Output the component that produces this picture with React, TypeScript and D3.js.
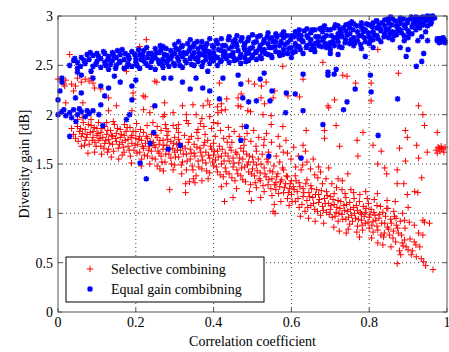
import React from 'react';
import * as d3 from 'd3';

// x tick / y tick values
const xTicks = [0, 0.2, 0.4, 0.6, 0.8, 1];
const yTicks = [0, 0.5, 1, 1.5, 2, 2.5, 3];

// Selective combining (red +)
const selectiveBand: [number, number][] = [
  [0.04,1.80],[0.045,1.76],[0.05,1.88],[0.055,1.83],[0.06,1.78],[0.065,1.92],[0.07,1.74],[0.07,1.85],[0.075,1.80],[0.08,1.70],[0.085,1.89],[0.09,1.77],[0.09,1.83],[0.095,1.72],[0.1,1.86],[0.1,1.79],[0.077,1.61],[0.094,1.62],[0.06,1.68],[0.05,1.95],[0.035,1.86],
  [0.105,1.74],[0.11,1.82],[0.11,1.68],[0.115,1.77],[0.12,1.88],[0.12,1.71],[0.125,1.80],[0.13,1.75],[0.13,1.65],[0.135,1.84],[0.14,1.78],[0.14,1.70],[0.145,1.90],[0.15,1.73],[0.15,1.81],[0.155,1.66],[0.16,1.77],[0.16,1.85],[0.165,1.72],[0.17,1.79],[0.17,1.62],[0.175,1.83],[0.18,1.75],[0.18,1.68],[0.185,1.87],[0.19,1.71],[0.19,1.79],[0.195,1.64],[0.2,1.76],[0.2,1.83],[0.137,1.57],[0.189,1.51],[0.125,1.92],[0.165,1.59],
  [0.205,1.70],[0.21,1.78],[0.21,1.62],[0.215,1.74],[0.22,1.66],[0.22,1.82],[0.225,1.71],[0.23,1.58],[0.23,1.76],[0.235,1.68],[0.24,1.63],[0.24,1.80],[0.245,1.72],[0.25,1.55],[0.25,1.67],[0.255,1.77],[0.26,1.61],[0.26,1.70],[0.265,1.84],[0.27,1.65],[0.27,1.74],[0.275,1.52],[0.28,1.69],[0.28,1.79],[0.285,1.60],[0.29,1.73],[0.29,1.56],[0.295,1.66],[0.3,1.77],[0.3,1.62],[0.3,1.49],[0.215,1.55],[0.265,1.58],[0.255,1.48],[0.287,1.24],[0.296,1.44],[0.278,1.86],
  [0.305,1.70],[0.31,1.57],[0.31,1.75],[0.315,1.64],[0.32,1.52],[0.32,1.68],[0.325,1.79],[0.33,1.60],[0.33,1.44],[0.335,1.72],[0.34,1.55],[0.34,1.65],[0.345,1.48],[0.35,1.70],[0.35,1.61],[0.355,1.38],[0.36,1.53],[0.36,1.76],[0.365,1.66],[0.37,1.58],[0.37,1.45],[0.375,1.69],[0.38,1.62],[0.38,1.51],[0.385,1.74],[0.39,1.56],[0.39,1.41],[0.395,1.65],[0.4,1.59],[0.4,1.48],[0.4,1.71],[0.328,1.30],[0.328,1.21],[0.338,1.32],[0.352,1.31],[0.37,1.33],[0.31,1.82],[0.36,1.85],
  [0.405,1.54],[0.41,1.63],[0.41,1.42],[0.415,1.68],[0.42,1.50],[0.42,1.58],[0.425,1.37],[0.43,1.61],[0.43,1.46],[0.435,1.72],[0.44,1.53],[0.44,1.40],[0.445,1.64],[0.45,1.47],[0.45,1.56],[0.455,1.33],[0.46,1.60],[0.46,1.44],[0.465,1.51],[0.47,1.66],[0.47,1.38],[0.475,1.55],[0.475,1.34],[0.48,1.47],[0.485,1.60],[0.49,1.42],[0.49,1.52],[0.495,1.29],[0.5,1.45],[0.5,1.57],[0.428,1.12],[0.45,1.16],[0.497,1.13],[0.44,1.78],[0.48,1.75],[0.42,1.27],
  [0.505,1.38],[0.51,1.49],[0.51,1.26],[0.515,1.55],[0.52,1.41],[0.52,1.33],[0.525,1.60],[0.53,1.46],[0.53,1.22],[0.535,1.37],[0.54,1.52],[0.54,1.29],[0.545,1.43],[0.55,1.35],[0.55,1.18],[0.555,1.48],[0.56,1.31],[0.56,1.24],[0.565,1.40],[0.57,1.27],[0.57,1.52],[0.575,1.34],[0.58,1.21],[0.58,1.44],[0.585,1.30],[0.59,1.15],[0.59,1.37],[0.595,1.25],[0.6,1.33],[0.6,1.19],[0.553,1.02],[0.558,1.00],[0.51,1.63],[0.548,1.90],[0.578,1.88],[0.59,1.61],[0.57,1.68],[0.53,1.75],
  [0.605,1.27],[0.61,1.38],[0.61,1.12],[0.615,1.22],[0.62,1.31],[0.62,1.06],[0.625,1.44],[0.63,1.17],[0.63,1.25],[0.635,1.02],[0.64,1.34],[0.64,1.13],[0.645,1.21],[0.65,1.08],[0.65,1.28],[0.655,1.16],[0.66,1.39],[0.66,1.04],[0.665,1.24],[0.67,1.11],[0.67,1.19],[0.675,0.98],[0.68,1.30],[0.68,1.07],[0.685,1.15],[0.69,1.01],[0.69,1.22],[0.695,1.10],[0.7,1.04],[0.7,1.17],[0.638,1.84],[0.63,1.69],[0.685,1.76],[0.715,1.89],[0.685,1.84],[0.64,1.52],[0.67,1.47],
  [0.705,0.96],[0.71,1.09],[0.71,1.20],[0.715,1.01],[0.72,1.13],[0.72,0.92],[0.725,1.05],[0.73,1.24],[0.73,0.99],[0.735,1.08],[0.74,0.94],[0.74,1.16],[0.745,1.02],[0.75,1.11],[0.75,0.89],[0.755,0.98],[0.76,1.06],[0.76,1.21],[0.765,0.95],[0.77,1.03],[0.77,0.87],[0.775,1.12],[0.78,0.99],[0.78,0.93],[0.785,1.07],[0.79,0.90],[0.79,1.01],[0.795,1.15],[0.8,0.96],[0.8,0.85],[0.741,0.80],[0.775,0.76],[0.724,1.68],[0.769,1.74],[0.784,1.82],[0.771,1.58],[0.745,1.40],[0.72,1.35],
  [0.805,1.04],[0.81,0.92],[0.81,0.81],[0.815,0.98],[0.82,1.08],[0.82,0.87],[0.822,0.70],[0.825,0.95],[0.83,0.78],[0.835,1.01],[0.835,0.68],[0.839,0.80],[0.84,0.90],[0.845,1.05],[0.848,1.05],[0.85,0.84],[0.855,0.94],[0.861,0.75],[0.865,0.97],[0.867,1.12],[0.87,0.88],[0.872,0.49],[0.875,0.80],[0.878,0.62],[0.88,0.92],[0.885,0.70],[0.891,0.93],[0.891,0.73],[0.895,0.66],[0.9,0.63],[0.9,1.06],[0.898,1.19],[0.81,1.69],[0.831,1.63],[0.822,1.50],[0.84,1.46],[0.845,1.40],[0.872,1.44],[0.872,1.30],[0.889,1.30],[0.878,1.66],[0.893,1.53],[0.893,1.84],[0.898,1.77],
  [0.908,0.58],[0.916,0.88],[0.916,0.71],[0.92,0.68],[0.921,0.56],[0.927,0.80],[0.934,0.54],[0.938,0.78],[0.94,0.51],[0.942,0.91],[0.945,0.47],[0.955,0.90],[0.964,0.43],[0.938,0.93],[0.917,1.22],[0.925,1.21],[0.935,1.36],[0.922,1.69],[0.927,1.56],[0.949,1.62],[0.942,1.89],[0.975,1.82],
  [0.972,1.64],[0.977,1.67],[0.982,1.63],[0.986,1.66],[0.99,1.65],[0.975,1.61],[0.985,1.68],[0.992,1.62],[0.98,1.66],[0.995,1.67],
];

const selectiveBandMore: [number, number][] = [
  [0.052,1.73],[0.058,1.86],[0.063,1.81],[0.068,1.69],[0.073,1.77],[0.078,1.90],[0.083,1.82],[0.088,1.74],[0.093,1.87],[0.098,1.68],[0.103,1.81],[0.108,1.76],[0.113,1.86],[0.118,1.66],[0.123,1.74],[0.128,1.84],[0.133,1.71],[0.138,1.79],[0.143,1.63],[0.148,1.76],[0.153,1.86],[0.158,1.70],[0.163,1.80],[0.168,1.67],[0.173,1.74],[0.178,1.87],[0.183,1.64],[0.188,1.77],[0.193,1.83],[0.198,1.69],
  [0.203,1.61],[0.208,1.75],[0.212,1.85],[0.217,1.68],[0.222,1.59],[0.227,1.78],[0.232,1.64],[0.237,1.73],[0.242,1.56],[0.247,1.69],[0.252,1.79],[0.257,1.63],[0.262,1.74],[0.267,1.52],[0.272,1.69],[0.277,1.60],[0.282,1.75],[0.287,1.65],[0.292,1.50],[0.297,1.71],
  [0.302,1.57],[0.307,1.64],[0.312,1.71],[0.317,1.49],[0.322,1.60],[0.327,1.66],[0.332,1.53],[0.337,1.75],[0.342,1.61],[0.347,1.44],[0.352,1.58],[0.357,1.67],[0.362,1.47],[0.367,1.62],[0.372,1.54],[0.377,1.72],[0.382,1.43],[0.387,1.59],[0.392,1.68],[0.397,1.52],
  [0.402,1.63],[0.407,1.47],[0.412,1.57],[0.417,1.39],[0.422,1.65],[0.427,1.53],[0.432,1.42],[0.437,1.58],[0.442,1.67],[0.447,1.36],[0.452,1.51],[0.457,1.62],[0.462,1.40],[0.467,1.56],[0.472,1.46],[0.477,1.63],[0.482,1.32],[0.487,1.49],[0.492,1.58],[0.497,1.40],
  [0.502,1.52],[0.507,1.31],[0.512,1.43],[0.517,1.35],[0.522,1.50],[0.527,1.28],[0.532,1.40],[0.537,1.55],[0.542,1.34],[0.547,1.25],[0.552,1.42],[0.557,1.29],[0.562,1.37],[0.567,1.20],[0.572,1.32],[0.577,1.46],[0.582,1.26],[0.587,1.38],[0.592,1.21],[0.597,1.30],
  [0.602,1.12],[0.607,1.24],[0.612,1.33],[0.617,1.15],[0.622,1.27],[0.627,1.09],[0.632,1.21],[0.637,1.30],[0.642,1.06],[0.647,1.17],[0.652,1.25],[0.657,1.10],[0.662,1.19],[0.667,1.02],[0.672,1.14],[0.677,1.23],[0.682,1.03],[0.687,1.10],[0.692,1.18],[0.697,0.99],
  [0.702,1.08],[0.707,1.14],[0.712,0.97],[0.717,1.06],[0.722,1.00],[0.727,1.12],[0.732,0.94],[0.737,1.03],[0.742,1.09],[0.747,0.96],[0.752,1.04],[0.757,0.92],[0.762,1.00],[0.767,1.08],[0.772,0.94],[0.777,1.01],[0.782,0.88],[0.787,0.97],[0.792,1.05],[0.797,0.91],
  [0.802,0.99],[0.807,0.88],[0.812,1.01],[0.817,0.93],[0.822,0.83],[0.827,0.99],[0.832,0.90],[0.837,0.76],[0.842,0.97],[0.847,0.86],[0.852,0.78],[0.857,0.90],[0.862,0.82],[0.868,0.71],[0.873,0.85],[0.883,0.78],[0.887,0.67],[0.905,0.74],
];

// wider spread around the red band, upper and lower edges
const selectiveSpread: [number, number][] = [
  [0.062,1.97],[0.085,1.95],[0.104,1.92],[0.112,1.60],[0.127,1.62],[0.142,1.93],[0.156,1.55],[0.171,1.90],[0.186,1.58],[0.202,1.91],[0.214,1.48],[0.229,1.89],[0.236,1.50],[0.244,1.92],[0.271,1.43],[0.276,1.90],
  [0.255,1.88],[0.262,1.45],[0.283,1.83],[0.305,1.86],[0.318,1.40],[0.335,1.91],[0.343,1.78],[0.348,1.35],[0.357,1.82],[0.366,1.91],[0.378,1.80],[0.386,1.35],[0.395,1.86],[0.404,1.78],[0.411,1.91],[0.418,1.84],[0.426,1.76],[0.433,1.30],[0.438,1.87],[0.447,1.72],
  [0.453,1.83],[0.459,1.25],[0.466,1.78],[0.474,1.88],[0.478,1.69],[0.486,1.81],[0.492,1.22],[0.496,1.73],[0.503,1.84],[0.509,1.68],[0.516,1.77],[0.521,1.16],[0.529,1.69],[0.536,1.81],[0.541,1.62],[0.549,1.72],[0.556,1.09],[0.561,1.58],[0.566,1.78],[0.573,1.12],
  [0.579,1.62],[0.586,1.74],[0.594,1.08],[0.599,1.55],[0.606,1.67],[0.611,1.47],[0.618,1.58],[0.623,0.97],[0.629,1.49],[0.636,1.63],[0.644,0.95],[0.649,1.45],[0.656,1.55],[0.661,0.92],[0.668,1.36],[0.675,1.42],[0.683,0.90],[0.689,1.35],[0.696,1.46],[0.704,1.30],
  [0.709,0.86],[0.716,1.26],[0.723,0.82],[0.731,1.33],[0.738,1.20],[0.746,0.84],[0.753,1.24],[0.761,1.15],[0.768,0.81],[0.776,1.19],[0.783,0.83],[0.791,1.22],[0.798,1.10],[0.806,0.75],[0.813,1.14],[0.821,1.20],[0.829,1.07],[0.846,1.13],[0.856,0.66],[0.863,1.02],
  [0.869,0.95],[0.881,0.58],[0.886,1.00],[0.892,0.85],[0.903,0.91],[0.911,0.62],[0.93,0.66],
];

const selectiveUpper: [number, number][] = [
  [0.227,2.76],[0.21,2.69],[0.03,2.61],[0.047,2.53],
  [0.0,2.36],[0.02,2.35],[0.035,2.31],[0.05,2.37],[0.06,2.33],[0.07,2.36],[0.08,2.34],[0.015,2.31],[0.045,2.29],[0.09,2.32],[0.085,2.37],
  [0.017,2.29],[0.04,2.24],[0.094,2.27],[0.11,2.26],[0.064,2.12],[0.02,2.12],[0.13,2.17],[0.15,2.09],[0.13,2.04],[0.176,2.44],[0.193,2.22],[0.193,2.16],[0.19,2.04],[0.219,2.19],[0.249,2.34],[0.274,2.12],[0.32,2.09],[0.296,2.02],[0.274,2.0],[0.33,2.0],[0.236,2.02],
  [0.254,2.33],[0.224,2.18],[0.22,2.05],[0.245,2.08],[0.27,1.98],[0.296,1.89],[0.31,1.9],[0.33,1.94],[0.37,1.96],[0.375,1.88],[0.4,1.92],[0.42,2.11],[0.43,2.05],[0.434,2.16],[0.41,2.08],
  [0.625,2.75],[0.484,2.56],[0.544,2.7],[0.578,2.49],[0.415,2.32],[0.49,2.34],[0.505,2.31],[0.523,2.29],[0.535,2.33],[0.557,2.24],[0.471,2.21],[0.463,2.17],[0.522,2.17],[0.553,2.17],[0.347,2.10],[0.373,2.09],[0.39,2.1],[0.385,2.14],[0.463,2.09],[0.47,2.08],[0.488,2.04],[0.495,2.03],[0.531,2.11],[0.527,2.0],[0.548,1.99],[0.411,2.02],[0.42,2.04],[0.355,2.0],[0.591,2.19],[0.621,2.18],[0.63,2.36],[0.39,1.98],
  [0.822,2.66],[0.732,2.4],[0.743,2.39],[0.765,2.32],[0.805,2.32],[0.875,2.42],[0.805,2.14],[0.711,2.15],[0.694,2.09],[0.696,2.07],[0.927,2.09],[0.938,2.0],[0.681,2.53],
];

// Equal gain combining (blue *)
const equalBand: [number, number][] = [
  [0.03,2.50],[0.04,2.55],[0.05,2.47],[0.06,2.58],[0.07,2.52],[0.08,2.56],[0.09,2.60],[0.09,2.49],[0.10,2.54],[0.05,2.53],[0.075,2.61],[0.10,2.62],
  [0.11,2.57],[0.11,2.48],[0.12,2.62],[0.12,2.53],[0.13,2.59],[0.13,2.46],[0.14,2.55],[0.14,2.63],[0.15,2.50],[0.15,2.58],[0.16,2.61],[0.16,2.54],[0.17,2.47],[0.17,2.56],[0.18,2.60],[0.18,2.52],[0.19,2.64],[0.19,2.49],[0.20,2.57],[0.20,2.53],[0.165,2.66],[0.135,2.51],
  [0.21,2.61],[0.21,2.47],[0.22,2.55],[0.22,2.65],[0.23,2.58],[0.23,2.50],[0.24,2.62],[0.24,2.54],[0.25,2.46],[0.25,2.67],[0.25,2.58],[0.26,2.52],[0.26,2.63],[0.27,2.56],[0.27,2.69],[0.27,2.48],[0.28,2.60],[0.28,2.53],[0.29,2.65],[0.29,2.57],[0.30,2.50],[0.30,2.62],[0.30,2.71],[0.225,2.52],[0.245,2.59],[0.265,2.66],[0.285,2.49],
  [0.31,2.55],[0.31,2.66],[0.31,2.74],[0.32,2.59],[0.32,2.48],[0.32,2.70],[0.33,2.62],[0.33,2.53],[0.34,2.57],[0.34,2.68],[0.34,2.76],[0.35,2.50],[0.35,2.63],[0.35,2.72],[0.36,2.58],[0.36,2.67],[0.36,2.54],[0.37,2.61],[0.37,2.74],[0.37,2.49],[0.38,2.65],[0.38,2.56],[0.38,2.70],[0.39,2.60],[0.39,2.52],[0.39,2.77],[0.40,2.63],[0.40,2.68],[0.40,2.55],[0.315,2.62],[0.345,2.60],[0.375,2.66],
  [0.41,2.58],[0.41,2.72],[0.41,2.50],[0.42,2.65],[0.42,2.77],[0.42,2.55],[0.43,2.61],[0.43,2.70],[0.44,2.53],[0.44,2.67],[0.44,2.79],[0.45,2.59],[0.45,2.74],[0.45,2.63],[0.46,2.56],[0.46,2.69],[0.46,2.80],[0.47,2.61],[0.47,2.75],[0.47,2.52],[0.48,2.66],[0.48,2.58],[0.48,2.72],[0.49,2.63],[0.49,2.78],[0.49,2.55],[0.50,2.68],[0.50,2.60],[0.50,2.81],[0.425,2.60],[0.455,2.76],[0.485,2.62],
  [0.51,2.64],[0.51,2.74],[0.51,2.56],[0.52,2.70],[0.52,2.59],[0.52,2.80],[0.53,2.66],[0.53,2.76],[0.54,2.61],[0.54,2.72],[0.54,2.83],[0.55,2.58],[0.55,2.68],[0.55,2.78],[0.56,2.64],[0.56,2.74],[0.56,2.82],[0.57,2.60],[0.57,2.70],[0.58,2.66],[0.58,2.78],[0.58,2.84],[0.59,2.62],[0.59,2.73],[0.60,2.68],[0.60,2.80],[0.60,2.58],[0.525,2.64],[0.545,2.77],[0.575,2.81],
  [0.61,2.72],[0.61,2.84],[0.61,2.64],[0.62,2.77],[0.62,2.69],[0.62,2.86],[0.63,2.74],[0.63,2.62],[0.64,2.80],[0.64,2.70],[0.64,2.87],[0.65,2.66],[0.65,2.76],[0.65,2.83],[0.66,2.72],[0.66,2.86],[0.66,2.64],[0.67,2.79],[0.67,2.70],[0.68,2.84],[0.68,2.75],[0.68,2.88],[0.69,2.68],[0.69,2.80],[0.70,2.73],[0.70,2.86],[0.70,2.66],[0.625,2.80],[0.655,2.70],[0.685,2.90],
  [0.71,2.78],[0.71,2.88],[0.71,2.70],[0.72,2.82],[0.72,2.74],[0.72,2.90],[0.73,2.79],[0.73,2.68],[0.74,2.85],[0.74,2.76],[0.74,2.91],[0.75,2.72],[0.75,2.82],[0.75,2.88],[0.76,2.78],[0.76,2.92],[0.76,2.70],[0.77,2.84],[0.77,2.75],[0.78,2.89],[0.78,2.80],[0.78,2.93],[0.79,2.74],[0.79,2.86],[0.80,2.79],[0.80,2.91],[0.80,2.72],[0.725,2.86],[0.755,2.94],[0.785,2.84],
  [0.81,2.84],[0.81,2.93],[0.81,2.76],[0.82,2.88],[0.82,2.80],[0.82,2.95],[0.83,2.85],[0.83,2.74],[0.84,2.90],[0.84,2.82],[0.84,2.96],[0.85,2.78],[0.85,2.87],[0.85,2.93],[0.86,2.84],[0.86,2.97],[0.86,2.76],[0.87,2.90],[0.87,2.81],[0.88,2.94],[0.88,2.86],[0.88,2.98],[0.89,2.80],[0.89,2.91],[0.90,2.85],[0.90,2.96],[0.90,2.78],[0.825,2.91],[0.855,2.99],[0.875,2.87],
  [0.91,2.89],[0.91,2.97],[0.91,2.82],[0.92,2.93],[0.92,2.99],[0.92,2.86],[0.93,2.95],[0.93,2.88],[0.94,2.98],[0.94,2.91],[0.95,2.96],[0.95,3.0],[0.95,2.90],[0.96,2.99],[0.96,2.94],[0.945,2.84],[0.935,2.79],
  [0.975,2.75],[0.98,2.77],[0.985,2.74],[0.99,2.76],[0.995,2.75],[0.98,2.73],[0.99,2.78],[0.975,2.77],[0.995,2.73],[0.985,2.77],
];

const equalBandMore: [number, number][] = [
  [0.043,2.57],[0.058,2.49],[0.067,2.55],[0.083,2.63],[0.097,2.51],[0.104,2.59],[0.117,2.64],[0.123,2.50],[0.128,2.56],[0.143,2.60],[0.148,2.47],[0.153,2.65],[0.158,2.53],[0.173,2.62],[0.178,2.49],[0.183,2.57],[0.197,2.61],
  [0.203,2.50],[0.207,2.66],[0.213,2.56],[0.218,2.60],[0.228,2.68],[0.233,2.62],[0.238,2.48],[0.243,2.57],[0.253,2.63],[0.258,2.55],[0.263,2.70],[0.268,2.51],[0.273,2.61],[0.278,2.67],[0.283,2.56],[0.293,2.60],[0.297,2.52],
  [0.303,2.67],[0.307,2.58],[0.313,2.50],[0.318,2.69],[0.323,2.63],[0.327,2.55],[0.333,2.72],[0.337,2.65],[0.343,2.51],[0.348,2.69],[0.353,2.57],[0.358,2.74],[0.363,2.62],[0.368,2.69],[0.373,2.53],[0.378,2.60],[0.383,2.72],[0.388,2.64],[0.393,2.57],[0.397,2.70],
  [0.403,2.59],[0.407,2.75],[0.413,2.66],[0.418,2.54],[0.423,2.70],[0.428,2.64],[0.433,2.57],[0.438,2.76],[0.443,2.60],[0.448,2.69],[0.453,2.55],[0.458,2.72],[0.463,2.65],[0.468,2.58],[0.473,2.78],[0.478,2.69],[0.483,2.54],[0.488,2.75],[0.493,2.67],[0.498,2.58],
  [0.503,2.73],[0.508,2.63],[0.513,2.79],[0.518,2.67],[0.523,2.57],[0.528,2.73],[0.533,2.62],[0.538,2.79],[0.543,2.68],[0.548,2.60],[0.553,2.74],[0.558,2.69],[0.563,2.79],[0.568,2.63],[0.573,2.74],[0.578,2.61],[0.583,2.71],[0.588,2.80],[0.593,2.67],[0.598,2.76],
  [0.603,2.63],[0.608,2.79],[0.613,2.69],[0.618,2.82],[0.623,2.66],[0.628,2.75],[0.633,2.85],[0.638,2.68],[0.643,2.78],[0.648,2.72],[0.653,2.86],[0.658,2.67],[0.663,2.79],[0.668,2.74],[0.673,2.87],[0.678,2.69],[0.683,2.78],[0.688,2.72],[0.693,2.86],[0.698,2.70],
  [0.703,2.80],[0.708,2.74],[0.713,2.91],[0.718,2.78],[0.723,2.69],[0.728,2.83],[0.733,2.88],[0.738,2.73],[0.743,2.81],[0.748,2.92],[0.753,2.76],[0.758,2.86],[0.763,2.73],[0.768,2.90],[0.773,2.80],[0.778,2.71],[0.783,2.87],[0.788,2.78],[0.793,2.92],[0.798,2.83],
  [0.803,2.75],[0.808,2.89],[0.813,2.81],[0.818,2.95],[0.823,2.77],[0.828,2.87],[0.833,2.93],[0.838,2.79],[0.843,2.86],[0.848,2.97],[0.853,2.82],[0.858,2.91],[0.863,2.80],[0.868,2.95],[0.873,2.85],[0.878,2.92],[0.883,2.83],[0.888,2.97],[0.893,2.88],[0.898,2.93],
  [0.903,2.82],[0.908,2.99],[0.913,2.92],[0.918,2.96],[0.923,2.90],[0.928,2.98],[0.933,2.92],[0.938,2.99],[0.943,2.95],[0.953,2.98],[0.958,2.92],[0.963,3.0],[0.968,2.98],
];

const equalScatter: [number, number][] = [
  [0.0,2.00],[0.01,2.03],[0.02,1.99],[0.03,2.02],[0.04,2.05],[0.05,2.00],[0.06,2.03],[0.07,1.98],[0.08,2.01],[0.09,2.04],[0.105,2.00],[0.015,2.05],[0.055,2.06],[0.035,1.97],[0.075,2.04],[0.184,2.0],
  [0.0,2.15],[0.005,2.24],[0.01,2.33],[0.01,2.37],[0.03,1.78],[0.05,2.43],[0.06,2.40],[0.045,2.17],[0.06,2.22],[0.085,2.44],[0.09,2.37],[0.11,2.29],[0.12,2.19],[0.145,2.39],[0.16,2.33],[0.13,2.27],[0.11,2.10],[0.19,2.29],[0.19,2.15],[0.2,2.35],[0.249,2.09],[0.29,2.37],[0.272,2.37],[0.32,2.33],
  [0.355,2.37],[0.385,2.44],[0.34,2.26],[0.372,2.27],[0.39,2.24],[0.424,2.37],[0.415,2.16],[0.463,2.40],[0.47,2.31],[0.475,2.17],[0.49,2.13],[0.51,2.14],[0.52,2.36],[0.53,2.42],[0.55,2.24],[0.545,2.14],[0.587,2.22],[0.61,2.21],[0.63,2.04],[0.63,2.41],[0.585,2.02],
  [0.694,2.43],[0.694,2.40],[0.715,2.46],[0.71,2.41],[0.764,2.26],[0.743,2.13],[0.734,2.05],[0.803,2.40],[0.805,2.23],[0.873,2.16],[0.79,2.59],[0.895,2.59],[0.9,2.66],[0.921,2.49],[0.935,2.54],[0.94,2.62],[0.88,2.68],[0.925,2.75],[0.95,2.75],[0.89,2.75],[0.81,2.68],[0.78,2.67],[0.70,2.62],[0.72,2.61],
  [0.046,1.93],[0.115,1.89],[0.176,1.95],[0.246,1.82],[0.237,1.71],[0.283,1.65],[0.314,1.69],[0.211,1.51],[0.227,1.35],[0.484,1.88],[0.47,1.74],[0.542,1.58],[0.625,1.56],[0.681,1.9],[0.823,1.79],
];

const selective = [...selectiveBand, ...selectiveBandMore, ...selectiveSpread, ...selectiveUpper];
const equal = [...equalBand, ...equalBandMore, ...equalScatter];

const W = 449;
const H = 352;
const margin = { top: 16, right: 2, bottom: 40, left: 58 };
const font = "'Liberation Serif', Tinos, 'Nimbus Roman', 'Times New Roman', Times, FreeSerif, 'DejaVu Serif', 'Noto Serif', serif";
const textStyle = { fontFamily: font, fontSize: 14 };

const plusPath = 'M-3.2,0H3.2M0,-3.2V3.2';
const starPath = 'M-2.8,0H2.8M0,-2.8V2.8M-2.1,-2.1L2.1,2.1M-2.1,2.1L2.1,-2.1';

export default function App() {
  const x = d3.scaleLinear().domain([0, 1]).range([margin.left, W - margin.right]);
  const y = d3.scaleLinear().domain([0, 3]).range([H - margin.bottom, margin.top]);
  const [x0, x1] = x.range();
  const [y0, y1] = y.range();

  return (
    <svg width={W} height={H} style={{ position: 'absolute', left: 0, top: 0, background: '#fff' }}>
      <rect x={0} y={0} width={W} height={H} fill="#fff" />
      {/* grid */}
      {xTicks.slice(1, -1).map(t => (
        <line key={'gx' + t} x1={x(t)} x2={x(t)} y1={y0} y2={y1} stroke="#444" strokeDasharray="1,3" />
      ))}
      {yTicks.slice(1, -1).map(t => (
        <line key={'gy' + t} x1={x0} x2={x1} y1={y(t)} y2={y(t)} stroke="#444" strokeDasharray="1,3" />
      ))}
      {/* points */}
      <g stroke="#ff0000" strokeWidth={1} fill="none">
        {selective.map((d, i) => (
          <path key={i} d={plusPath} transform={`translate(${x(d[0])},${y(d[1])})`} />
        ))}
      </g>
      <g stroke="#0000ff" strokeWidth={1.5} fill="none">
        {equal.map((d, i) => (
          <path key={i} d={starPath} transform={`translate(${x(d[0])},${y(d[1])})`} />
        ))}
      </g>
      {/* frame */}
      <rect x={x0} y={y1} width={x1 - x0} height={y0 - y1} fill="none" stroke="#555" strokeWidth={1} />
      {/* ticks */}
      {xTicks.map(t => (
        <g key={'tx' + t}>
          <line x1={x(t)} x2={x(t)} y1={y0} y2={y0 - 4} stroke="#555" />
          <line x1={x(t)} x2={x(t)} y1={y1} y2={y1 + 4} stroke="#555" />
          <text x={x(t)} y={y0 + 15} textAnchor="middle" style={textStyle}>{t}</text>
        </g>
      ))}
      {yTicks.map(t => (
        <g key={'ty' + t}>
          <line x1={x0} x2={x0 + 4} y1={y(t)} y2={y(t)} stroke="#555" />
          <line x1={x1} x2={x1 - 4} y1={y(t)} y2={y(t)} stroke="#555" />
          <text x={x0 - 5} y={y(t) + 5} textAnchor="end" style={textStyle}>{t}</text>
        </g>
      ))}
      <text x={(x0 + x1) / 2} y={346} textAnchor="middle" style={textStyle}>Correlation coefficient</text>
      <text transform={`translate(29,${(y0 + y1) / 2}) rotate(-90)`} textAnchor="middle" style={textStyle}>Diversity gain [dB]</text>
      {/* legend */}
      <g>
        <rect x={66} y={257} width={198} height={45} fill="#fff" stroke="#000" strokeWidth={1} />
        <path d={plusPath} transform="translate(90,269)" stroke="#ff0000" fill="none" />
        <path d={starPath} transform="translate(90,289)" stroke="#0000ff" strokeWidth={1.5} fill="none" />
        <text x={111} y={274} style={textStyle}>Selective combining</text>
        <text x={111} y={294} style={textStyle}>Equal gain combibning</text>
      </g>
    </svg>
  );
}
